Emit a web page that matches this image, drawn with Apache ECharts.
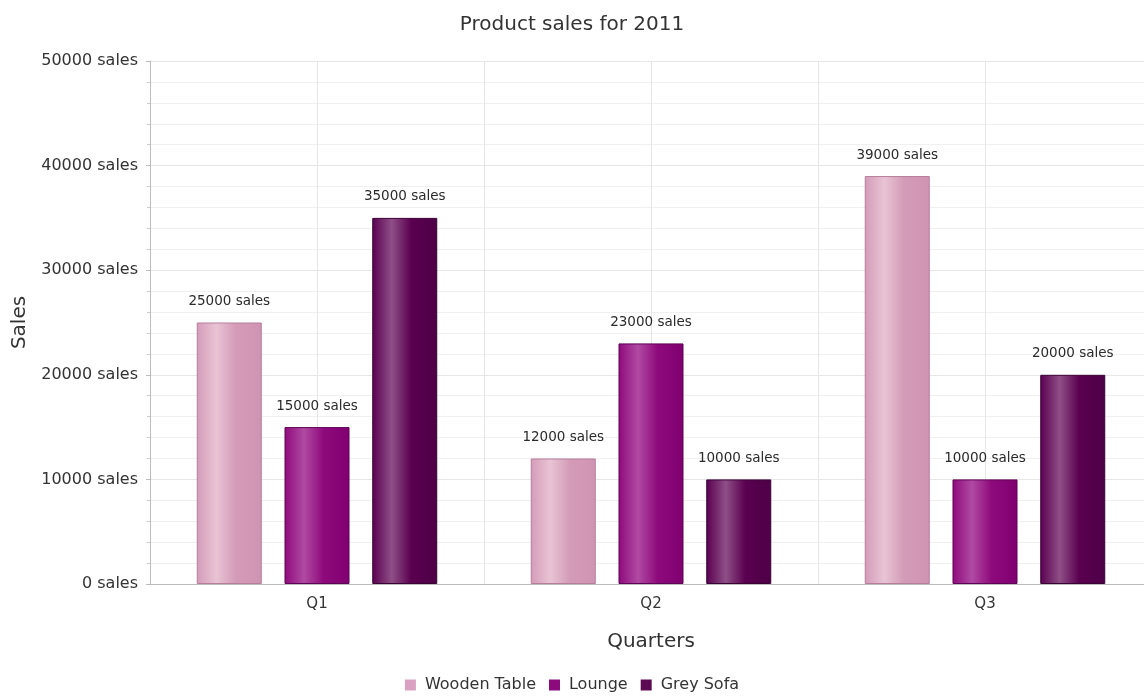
<!DOCTYPE html>
<html>
<head>
<meta charset="utf-8">
<style>
  html, body { margin: 0; padding: 0; background: #fff; }
  #chart { width: 1144px; height: 696px; }
</style>
<script src="https://cdn.jsdelivr.net/npm/echarts@6/dist/echarts.min.js"></script>
</head>
<body>
<div id="chart"></div>
<script>
// data
const quarters = ['Q1', 'Q2', 'Q3']
const woodenTable = [25000, 12000, 39000]
const lounge = [15000, 23000, 10000]
const greySofa = [35000, 10000, 20000]
const seriesNames = ['Wooden Table', 'Lounge', 'Grey Sofa']

// gradient per series: edge, highlight, edge
const palette = [
  { base: '#d49bb8', light: '#e8c4d4', dark: '#cf94b2', border: '#b77d9a', legend: '#d9a2c0' },
  { base: '#8e0a7c', light: '#b04aa2', dark: '#800070', border: '#5e0055', legend: '#8b0a7c' },
  { base: '#5a0050', light: '#8e4f86', dark: '#4e0046', border: '#3a0034', legend: '#5c0a52' }
]

const makeGradient = (c) => new echarts.graphic.LinearGradient(0, 0, 1, 0, [
  { offset: 0, color: c.base },
  { offset: 0.3, color: c.light },
  { offset: 0.6, color: c.base },
  { offset: 1, color: c.dark }
])

const chart = echarts.init(document.getElementById('chart'))
const font = 'DejaVu Sans, Verdana, sans-serif'

const makeSeries = (name, data, c) => ({
  name: name,
  type: 'bar',
  data: data,
  barWidth: 65,
  barGap: '35%',
  itemStyle: {
    color: makeGradient(c),
    borderColor: c.border,
    borderWidth: 1
  },
  label: {
    show: true,
    position: 'top',
    distance: 14,
    formatter: (p) => p.value + ' sales',
    fontFamily: font,
    fontSize: 13.5,
    color: '#2a2a2a'
  }
})

const option = {
  animation: false,
  title: {
    text: 'Product sales for 2011',
    left: 'center',
    top: 10,
    textStyle: { fontFamily: font, fontSize: 20, fontWeight: 'normal', color: '#333' }
  },
  legend: {
    bottom: -2,
    left: 'center',
    icon: 'rect',
    itemWidth: 11,
    itemHeight: 11,
    itemGap: 13,
    itemStyle: { borderWidth: 0 },
    textStyle: { fontFamily: font, fontSize: 16, color: '#333', padding: [0, 0, 0, 4] },
    data: [
      { name: seriesNames[0], itemStyle: { color: palette[0].legend } },
      { name: seriesNames[1], itemStyle: { color: palette[1].legend } },
      { name: seriesNames[2], itemStyle: { color: palette[2].legend } }
    ]
  },
  grid: { left: 150, width: 1002, top: 61, bottom: 112, containLabel: false, outerBoundsMode: 'none' },
  xAxis: [{
    type: 'category',
    data: quarters,
    name: 'Quarters',
    nameLocation: 'middle',
    nameGap: 48,
    nameTextStyle: { fontFamily: font, fontSize: 20, color: '#333' },
    axisLine: { lineStyle: { color: '#bbb' } },
    axisTick: { alignWithLabel: true, length: 5, lineStyle: { color: '#bbb' } },
    axisLabel: { fontFamily: font, fontSize: 15, color: '#333', margin: 13 },
    splitLine: { show: false }
  }, {
    type: 'category',
    data: ['', '', '', '', '', ''],
    position: 'bottom',
    show: true,
    axisLine: { show: false },
    axisTick: { show: false },
    axisLabel: { show: false },
    splitLine: { show: true, lineStyle: { color: '#e6e6e6' } }
  }],
  yAxis: {
    type: 'value',
    min: 0,
    max: 50000,
    interval: 10000,
    name: 'Sales',
    nameLocation: 'middle',
    nameGap: 120,
    nameTextStyle: { fontFamily: font, fontSize: 20, color: '#333' },
    axisLine: { show: true, lineStyle: { color: '#bbb' } },
    axisTick: { show: true, length: 4, lineStyle: { color: '#bbb' } },
    minorTick: { show: true, splitNumber: 5, length: 3, lineStyle: { color: '#ccc' } },
    axisLabel: {
      fontFamily: font, fontSize: 16, color: '#333', margin: 12,
      formatter: (v) => v + ' sales'
    },
    splitLine: { show: true, lineStyle: { color: '#e6e6e6' } },
    minorSplitLine: { show: true, lineStyle: { color: '#f0f0f0' } }
  },
  series: [
    makeSeries(seriesNames[0], woodenTable, palette[0]),
    makeSeries(seriesNames[1], lounge, palette[1]),
    makeSeries(seriesNames[2], greySofa, palette[2])
  ]
}

chart.setOption(option)
window.addEventListener('resize', () => chart.resize())
</script>
</body>
</html>
